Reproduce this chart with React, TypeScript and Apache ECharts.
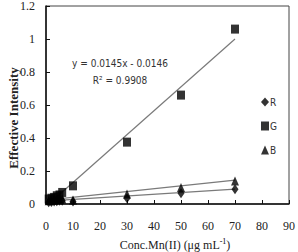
import React, { useEffect, useRef } from "react";
import * as echarts from "echarts";

const xTicks = [0, 10, 20, 30, 40, 50, 60, 70, 80, 90];
const yTicks = [0, 0.2, 0.4, 0.6, 0.8, 1, 1.2];

const rPoints: [number, number][] = [
  [1, 0.01], [2, 0.012], [3, 0.015], [4, 0.017], [5, 0.02], [6, 0.02],
  [10, 0.015], [30, 0.035], [50, 0.065], [70, 0.09],
];
const gPoints: [number, number][] = [
  [1, 0.03], [2, 0.035], [3, 0.04], [4, 0.05], [5, 0.055], [6, 0.07],
  [10, 0.11], [30, 0.375], [50, 0.66], [70, 1.06],
];
const bPoints: [number, number][] = [
  [1, 0.02], [2, 0.022], [3, 0.025], [4, 0.028], [5, 0.03], [6, 0.03],
  [10, 0.025], [30, 0.06], [50, 0.1], [70, 0.14],
];

const rTrend: [number, number][] = [[0, 0.018], [70, 0.09]];
const gTrend: [number, number][] = [[1, 0.0], [70, 1.0]];
const bTrend: [number, number][] = [[0, 0.024], [70, 0.145]];

const equationText = "y = 0.0145x - 0.0146";
const r2Text = "R² = 0.9908";
const xTitle = "Conc.Mn(II) (μg mL";
const yTitle = "Effective Intensity";

export default function App() {
  const ref = useRef<HTMLDivElement>(null);
  useEffect(() => {
    if (!ref.current) return;
    const chart = echarts.init(ref.current, undefined, { renderer: "svg" });
    const serif = '"Liberation Serif", "Times New Roman", serif';
    const narrow = '"Liberation Sans Narrow", "DejaVu Sans Condensed", "Liberation Sans", sans-serif';
    const trendStyle = { color: "#7a7a7a", width: 1.2 };
    chart.setOption({
      animation: false,
      backgroundColor: "#fff",
      grid: {
        left: 46, right: 7, top: 5, bottom: 48,
        show: true, borderColor: "#444", borderWidth: 1, backgroundColor: "transparent",
      },
      xAxis: {
        type: "value", min: xTicks[0], max: xTicks[xTicks.length - 1], interval: 10,
        axisLine: { show: true, lineStyle: { color: "#111", width: 1.5 } },
        axisTick: { show: true, inside: true, length: 4, lineStyle: { color: "#111" } },
        axisLabel: { color: "#222", fontFamily: serif, fontSize: 12, margin: 16 },
        splitLine: { show: false },
      },
      yAxis: {
        type: "value", min: yTicks[0], max: yTicks[yTicks.length - 1], interval: 0.2,
        axisLine: { show: true, lineStyle: { color: "#111", width: 1.5 } },
        axisTick: { show: true, inside: true, length: 4, lineStyle: { color: "#111" } },
        axisLabel: { color: "#222", fontFamily: serif, fontSize: 12, margin: 11 },
        splitLine: { show: false },
      },
      legend: {
        data: ["R", "G", "B"],
        orient: "vertical", left: 256, top: 92, itemGap: 14,
        itemWidth: 8, itemHeight: 9,
        textStyle: { fontFamily: narrow, fontSize: 10, color: "#333", padding: [0, 0, 0, -4] },
      },
      graphic: [
        {
          type: "text", x: 120, y: 63,
          style: { text: equationText, fontFamily: narrow, fontSize: 10, fill: "#333", textAlign: "center", textVerticalAlign: "middle" },
        },
        {
          type: "text", x: 120, y: 80,
          style: { text: r2Text, fontFamily: narrow, fontSize: 10, fill: "#333", textAlign: "center", textVerticalAlign: "middle" },
        },
        {
          type: "text", x: 13, y: 118, rotation: Math.PI / 2,
          style: { text: yTitle, fontFamily: serif, fontWeight: "bold", fontSize: 13, fill: "#222", textAlign: "center", textVerticalAlign: "middle" },
        },
        {
          type: "text", x: 175, y: 245,
          style: {
            text: "{a|" + xTitle + "}{s|-1}{a|)}",
            textAlign: "center", textVerticalAlign: "middle",
            rich: {
              a: { fontFamily: serif, fontSize: 12, fill: "#222", color: "#222" },
              s: { fontFamily: serif, fontSize: 8, color: "#222", padding: [0, 0, 7, 0] },
            },
          },
        },
      ],
      series: [
        { name: "R", type: "scatter", symbol: "diamond", symbolSize: [7, 10], itemStyle: { color: "#000" }, data: rPoints, z: 3 },
        { name: "G", type: "scatter", symbol: "rect", symbolSize: [8, 9], itemStyle: { color: "#000" }, data: gPoints, z: 3 },
        { name: "B", type: "scatter", symbol: "triangle", symbolSize: [8, 9], itemStyle: { color: "#000" }, data: bPoints, z: 3 },
        { name: "R trend", type: "line", data: rTrend, symbol: "none", lineStyle: trendStyle, z: 2 },
        { name: "G trend", type: "line", data: gTrend, symbol: "none", lineStyle: trendStyle, z: 2 },
        { name: "B trend", type: "line", data: bTrend, symbol: "none", lineStyle: trendStyle, z: 2 },
      ],
    });
    return () => chart.dispose();
  }, []);
  return <div ref={ref} style={{ width: 298, height: 252, position: "absolute", left: 0, top: 0 }} />;
}
